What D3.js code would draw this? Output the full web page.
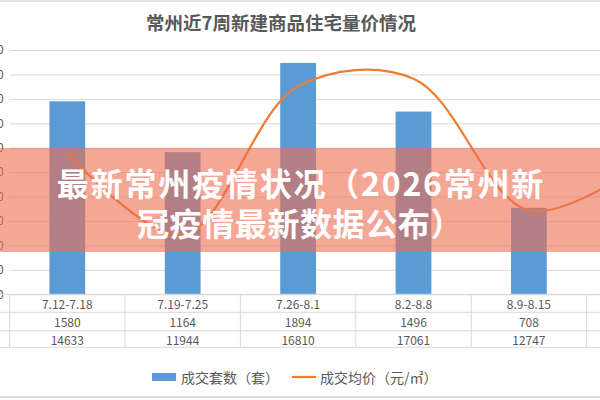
<!DOCTYPE html>
<html><head><meta charset="utf-8">
<script src="https://cdn.jsdelivr.net/npm/d3@7/dist/d3.min.js"></script>
<style>html,body{margin:0;padding:0;background:#fff;overflow:hidden}svg{display:block}</style>
</head><body><svg id="c" width="600" height="400"></svg>
<script>
const title = "常州近7周新建商品住宅量价情况";
const weeks = ["7.12-7.18","7.19-7.25","7.26-8.1","8.2-8.8","8.9-8.15","8.16-8.22"];
const counts = [1580,1164,1894,1496,708];
const prices = [14633,11944,16810,17061,12747,14300];
const countTicks = [0,200,400,600,800,1000,1200,1400,1600,1800,2000];
const legendLabels = ["成交套数（套）","成交均价（元/㎡）"];
const bannerLines = ["最新常州疫情状况（2026常州新","冠疫情最新数据公布）"];

(function(){
const svg = d3.select("#c");
const FONT = "'Noto Sans CJK SC','Noto Sans',sans-serif";
const grey = "#595959";
const plotLeft = 9.6, bandW = 115.4, plotTop = 50, base = 294.3;

const x = d3.scaleBand().domain(weeks).range([plotLeft, plotLeft + bandW*weeks.length]).padding(0);
const y = d3.scaleLinear().domain([0,2000]).range([base, plotTop]);
const y2 = d3.scaleLinear().domain([10000,18000]).range([base, plotTop]);

// frame lines
svg.append("line").attr("x1",0).attr("x2",600).attr("y1",1).attr("y2",1).attr("stroke","#e3e3e3").attr("stroke-width",2);
svg.append("line").attr("x1",0).attr("x2",600).attr("y1",397).attr("y2",397).attr("stroke","#dcdcdc").attr("stroke-width",2);

// title
svg.append("text").attr("x",281).attr("y",22).attr("text-anchor","middle").attr("dominant-baseline","central")
  .attr("font-family",FONT).attr("font-weight","bold").attr("font-size",18.5).attr("fill",grey).text(title);

// gridlines + left axis
const ax = svg.append("g").attr("transform",`translate(${plotLeft},0)`)
  .call(d3.axisLeft(y).tickValues(countTicks).tickSize(-700).tickPadding(6));
ax.select(".domain").remove();
ax.selectAll(".tick line").attr("stroke","#d9d9d9");
ax.selectAll(".tick text").attr("font-family",FONT).attr("font-size",12).attr("fill",grey);

// bars
const bw = bandW*0.31;
svg.append("g").selectAll("rect").data(counts).join("rect")
  .attr("x",(d,i)=>x(weeks[i]) + (bandW-bw)/2).attr("width",bw)
  .attr("y",d=>y(d)).attr("height",d=>base-y(d)).attr("fill","#5b9bd5");

// line
const line = d3.line().x((d,i)=>x(weeks[i])+bandW/2).y(d=>y2(d)).curve(d3.curveCatmullRom.alpha(0.5));
svg.append("path").datum(prices).attr("d",line).attr("fill","none").attr("stroke","#ed7d31").attr("stroke-width",2.25);

// data table
const rows = [base, 312.3, 330.7, 347.3];
const tg = svg.append("g");
rows.forEach(r=>tg.append("line").attr("x1",0).attr("x2",600).attr("y1",r).attr("y2",r).attr("stroke","#d9d9d9"));
d3.range(weeks.length+1).forEach(i=>{
  const xx = plotLeft + i*bandW;
  tg.append("line").attr("x1",xx).attr("x2",xx).attr("y1",base).attr("y2",347.3).attr("stroke","#d9d9d9");
});
const rowData = [weeks, counts, prices.slice(0,counts.length)];
rowData.forEach((arr,ri)=>{
  tg.append("g").selectAll("text").data(arr).join("text")
    .attr("x",(d,i)=>x(weeks[i])+bandW/2).attr("y",(rows[ri]+rows[ri+1])/2)
    .attr("text-anchor","middle").attr("dominant-baseline","central")
    .attr("font-family",FONT).attr("font-size",12).attr("fill",grey).text(d=>d);
});

// legend
const lg = svg.append("g");
lg.append("rect").attr("x",152).attr("y",373).attr("width",24).attr("height",8).attr("fill","#5b9bd5");
lg.append("text").attr("x",181).attr("y",377).attr("dominant-baseline","central").attr("font-family",FONT)
  .attr("font-size",14).attr("fill",grey).text(legendLabels[0]);
lg.append("line").attr("x1",292).attr("x2",316).attr("y1",377).attr("y2",377).attr("stroke","#ed7d31").attr("stroke-width",2.25);
lg.append("text").attr("x",320).attr("y",377).attr("dominant-baseline","central").attr("font-family",FONT)
  .attr("font-size",14).attr("fill",grey).text(legendLabels[1]);

// banner overlay
svg.append("rect").attr("x",0).attr("y",148).attr("width",600).attr("height",104).attr("fill","rgb(238,108,80)").attr("opacity",0.6);
bannerLines.forEach((t,i)=>{
  svg.append("text").attr("x",300 + (i===0?1:0)).attr("y",182+i*40).attr("text-anchor","middle").attr("dominant-baseline","central")
    .attr("font-family",FONT).attr("font-weight","bold").attr("font-size",32)
    .attr("letter-spacing", i===0 ? 1.8 : 0.6).attr("fill","#fff").text(t);
});
})();
</script></body></html>
